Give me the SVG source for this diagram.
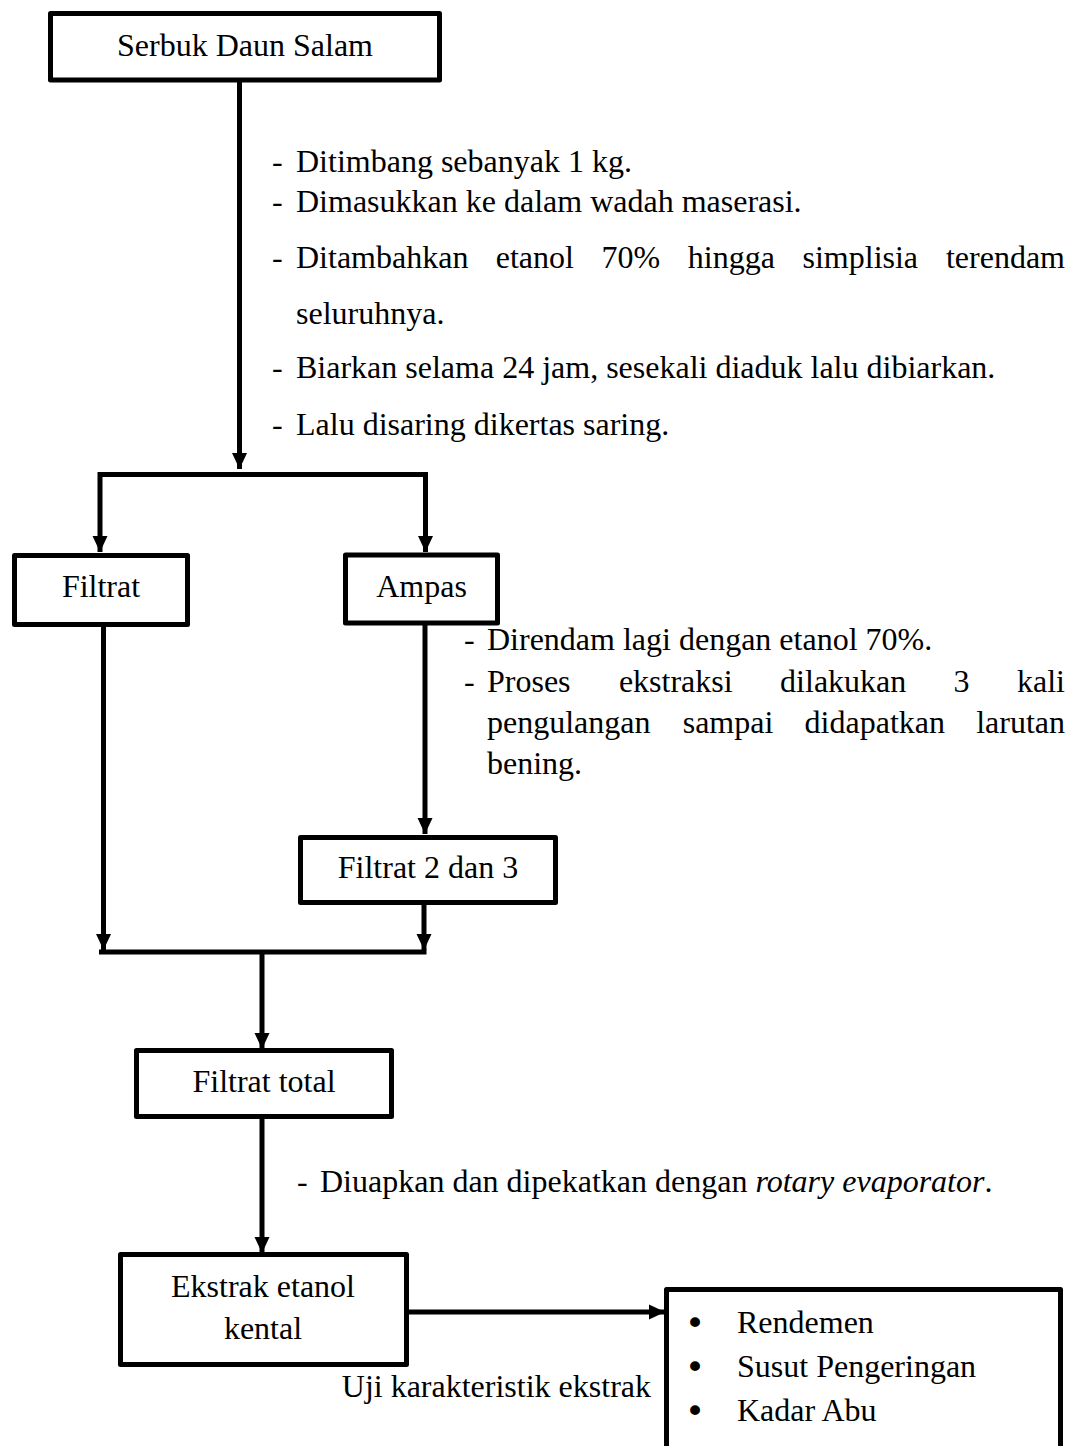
<svg xmlns="http://www.w3.org/2000/svg" width="1073" height="1446" viewBox="0 0 1073 1446">
<style>
.box{fill:#fff;stroke:#000;stroke-width:5;stroke-linejoin:round}
.ln{fill:none;stroke:#000;stroke-width:5;stroke-linejoin:miter}
text{font-family:"Liberation Serif","Times New Roman",serif;font-size:32px;fill:#000}
.c{text-anchor:middle}
.e{text-anchor:end}
.b{font-family:"DejaVu Sans",sans-serif;font-size:34px}
</style>
<defs>
<marker id="ah" markerUnits="userSpaceOnUse" markerWidth="16" markerHeight="16" refX="16" refY="8" orient="auto">
<path d="M0,0.5 L16,8 L0,15.5 z" fill="#000"/>
</marker>
</defs>
<rect width="1073" height="1446" fill="#fff"/>

<g id="connectors">
<path class="ln" d="M239.5,82 V469" marker-end="url(#ah)"/>
<path class="ln" d="M240,474.5 H100 V552" marker-end="url(#ah)"/>
<path class="ln" d="M238,474.5 H425.5 V552" marker-end="url(#ah)"/>
<path class="ln" d="M103.5,627 V950" marker-end="url(#ah)"/>
<path class="ln" d="M425,625 V834" marker-end="url(#ah)"/>
<path class="ln" d="M424,905 V950" marker-end="url(#ah)"/>
<path class="ln" d="M99,952 H426.5"/>
<path class="ln" d="M262,952 V1049" marker-end="url(#ah)"/>
<path class="ln" d="M262,1119 V1253" marker-end="url(#ah)"/>
<path class="ln" d="M408,1312 H665" marker-end="url(#ah)"/>
</g>

<g id="node-serbuk">
<rect class="box" x="50.5" y="13.5" width="389" height="66.5"/>
<text class="c" x="245" y="56">Serbuk Daun Salam</text>
</g>

<g id="label-maserasi">
<text x="272" y="172">-</text><text x="296" y="172">Ditimbang sebanyak 1 kg.</text>
<text x="272" y="212">-</text><text x="296" y="212">Dimasukkan ke dalam wadah maserasi.</text>
<text x="272" y="268">-</text>
<text x="296" y="268">Ditambahkan</text>
<text x="495.7" y="268">etanol</text>
<text x="601.4" y="268">70%</text>
<text x="687.8" y="268">hingga</text>
<text x="802.5" y="268">simplisia</text>
<text class="e" x="1065" y="268">terendam</text>
<text x="296" y="324">seluruhnya.</text>
<text x="272" y="378">-</text><text x="296" y="378">Biarkan selama 24 jam, sesekali diaduk lalu dibiarkan.</text>
<text x="272" y="435">-</text><text x="296" y="435">Lalu disaring dikertas saring.</text>
</g>

<g id="node-filtrat">
<rect class="box" x="14.5" y="555.5" width="173" height="69"/>
<text class="c" x="101" y="597">Filtrat</text>
</g>

<g id="node-ampas">
<rect class="box" x="345.5" y="555" width="152" height="68"/>
<text class="c" x="421.5" y="597">Ampas</text>
</g>

<g id="label-ampas">
<text x="464" y="650">-</text><text x="487" y="650">Direndam lagi dengan etanol 70%.</text>
<text x="464" y="692">-</text>
<text x="487" y="692">Proses</text>
<text x="618.9" y="692">ekstraksi</text>
<text x="780.1" y="692">dilakukan</text>
<text x="953.6" y="692">3</text>
<text class="e" x="1065" y="692">kali</text>
<text x="487" y="733">pengulangan</text>
<text x="682.7" y="733">sampai</text>
<text x="804.6" y="733">didapatkan</text>
<text class="e" x="1065" y="733">larutan</text>
<text x="487" y="774">bening.</text>
</g>

<g id="node-filtrat23">
<rect class="box" x="300.5" y="837.5" width="255" height="65"/>
<text class="c" x="428" y="878">Filtrat 2 dan 3</text>
</g>

<g id="node-filtrattotal">
<rect class="box" x="136.5" y="1050.5" width="255" height="66"/>
<text class="c" x="264" y="1092">Filtrat total</text>
</g>

<g id="label-evaporator">
<text x="297" y="1192">-</text><text x="320" y="1192">Diuapkan dan dipekatkan dengan <tspan font-style="italic">rotary evaporator</tspan>.</text>
</g>

<g id="node-ekstrak">
<rect class="box" x="120.5" y="1254.5" width="286" height="110"/>
<text class="c" x="263" y="1297">Ekstrak etanol</text>
<text class="c" x="263" y="1339">kental</text>
</g>

<g id="label-uji">
<text class="e" x="651" y="1397">Uji karakteristik ekstrak</text>
</g>

<g id="node-uji">
<rect class="box" x="666.5" y="1289.5" width="394" height="220"/>
<text class="c b" x="695" y="1335">•</text><text x="737" y="1333">Rendemen</text>
<text class="c b" x="695" y="1379">•</text><text x="737" y="1377">Susut Pengeringan</text>
<text class="c b" x="695" y="1423">•</text><text x="737" y="1421">Kadar Abu</text>
</g>
</svg>
